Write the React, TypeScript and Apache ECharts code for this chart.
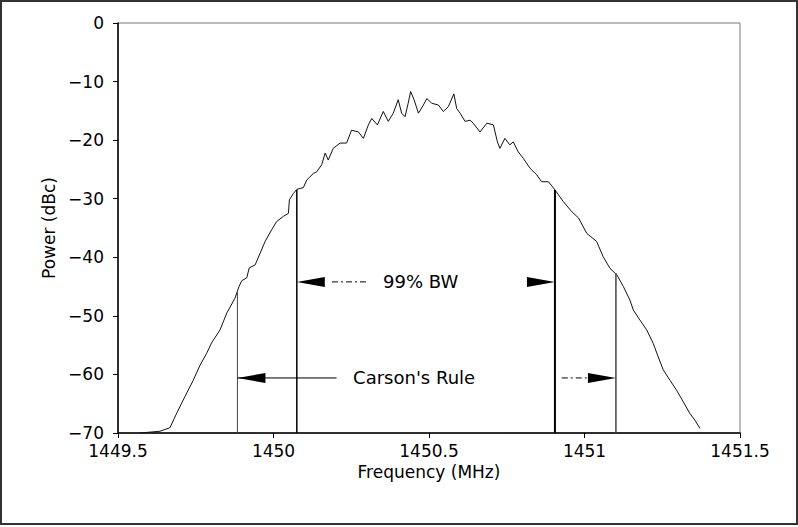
import React, { useEffect, useRef } from 'react';
import * as echarts from 'echarts';

// Spectrum trace (MHz, dBc)
const freq = [
  1449.571, 1449.635, 1449.667, 1449.689, 1449.715, 1449.742, 1449.764, 1449.785, 1449.801, 1449.828,
  1449.850, 1449.876, 1449.889, 1449.898, 1449.914, 1449.922, 1449.941, 1449.957, 1449.973, 1449.994,
  1450.010, 1450.032, 1450.048, 1450.051, 1450.064, 1450.075, 1450.096, 1450.107, 1450.128, 1450.139,
  1450.155, 1450.166, 1450.176, 1450.192, 1450.214, 1450.235, 1450.251, 1450.273, 1450.289, 1450.305,
  1450.316, 1450.334, 1450.353, 1450.369, 1450.385, 1450.401, 1450.412, 1450.423, 1450.433, 1450.441,
  1450.452, 1450.466, 1450.482, 1450.493, 1450.509, 1450.530, 1450.546, 1450.562, 1450.580, 1450.589,
  1450.600, 1450.616, 1450.632, 1450.642, 1450.664, 1450.686, 1450.707, 1450.720, 1450.728, 1450.744,
  1450.760, 1450.771, 1450.787, 1450.803, 1450.825, 1450.846, 1450.862, 1450.884, 1450.905, 1450.932,
  1450.959, 1450.981, 1451.007, 1451.039, 1451.060, 1451.082, 1451.104, 1451.125, 1451.146, 1451.157,
  1451.178, 1451.200, 1451.221, 1451.237, 1451.253, 1451.275, 1451.296, 1451.318, 1451.338, 1451.355,
  1451.371,
];
const power = [
  -70.0, -69.7, -69.1, -66.6, -63.8, -61.0, -58.4, -56.4, -54.6, -52.4,
  -49.5, -47.0, -45.0, -44.0, -43.5, -41.8, -41.3, -39.3, -37.3, -35.3,
  -33.9, -33.0, -32.5, -30.2, -29.1, -28.4, -28.1, -26.8, -25.7, -25.4,
  -24.2, -22.2, -23.4, -21.4, -20.5, -20.5, -18.3, -18.6, -19.7, -17.4,
  -16.3, -17.4, -15.1, -16.8, -15.4, -13.1, -15.4, -16.0, -13.7, -11.7,
  -13.1, -15.4, -14.0, -12.9, -13.7, -14.0, -15.1, -14.3, -12.1, -14.6,
  -15.4, -16.8, -16.6, -17.1, -18.6, -17.1, -17.4, -20.3, -21.4, -19.7,
  -20.8, -20.3, -22.0, -23.1, -24.8, -25.9, -27.1, -27.1, -28.5, -30.5,
  -32.2, -33.3, -35.9, -37.3, -39.9, -41.9, -43.0, -45.0, -47.3, -49.0,
  -50.7, -52.4, -54.7, -57.0, -59.2, -61.0, -62.7, -64.7, -66.6, -67.8,
  -69.2,
];

// Annotation values
const bwEdges = [1450.075, 1450.905];
const bwTops = [-28.5, -28.5];
const carsonEdges = [1449.884, 1451.101];
const carsonTops = [-46.0, -42.7];
const bwArrowLevel = -44.2;
const carsonArrowLevel = -60.6;
const bwLeader = [1450.188, 1450.305];
const carsonLeaderLeft = [1449.884, 1450.203];
const carsonLeaderRight = [1450.927, 1451.007];
const bwLabel = '99% BW';
const carsonLabel = "Carson's Rule";
const bwLabelAt = 1450.352;
const carsonLabelAt = 1450.256;

const xTicks = { min: 1449.5, max: 1451.5, step: 0.5 };
const yTicks = { min: -70, max: 0, step: 10 };

const FONT = 'DejaVu Sans';

export default function App() {
  const ref = useRef<HTMLDivElement>(null);
  useEffect(() => {
    document.body.style.margin = '0';
    const chart = echarts.init(ref.current!, null, { renderer: 'svg' });

    const renderItem = (_params: any, api: any) => {
      const P = (f: number, v: number) => api.coord([f, v]);
      const children: any[] = [];
      const seg = (a: number[], b: number[], stroke: string, w: number, dash?: number[]) => {
        children.push({
          type: 'line',
          shape: { x1: a[0], y1: a[1], x2: b[0], y2: b[1] },
          style: { stroke, lineWidth: w, lineDash: dash },
        });
      };
      const head = (tip: number[], dir: number) => {
        children.push({
          type: 'polygon',
          shape: { points: [[tip[0], tip[1]], [tip[0] + dir * 28, tip[1] - 5], [tip[0] + dir * 28, tip[1] + 5]] },
          style: { fill: '#000' },
        });
      };
      const label = (text: string, f: number, v: number) => {
        const p = P(f, v);
        children.push({
          type: 'text',
          x: p[0],
          y: p[1],
          style: { text, fill: '#000', fontSize: 18, fontFamily: FONT, align: 'left', verticalAlign: 'middle' },
        });
      };
      // vertical boundary lines
      seg(P(carsonEdges[0], yTicks.min), P(carsonEdges[0], carsonTops[0]), '#444', 1);
      seg(P(carsonEdges[1], yTicks.min), P(carsonEdges[1], carsonTops[1]), '#444', 1.5);
      seg(P(bwEdges[0], yTicks.min), P(bwEdges[0], bwTops[0]), '#000', 1.5);
      seg(P(bwEdges[1], yTicks.min), P(bwEdges[1], bwTops[1]), '#000', 2);
      // 99% BW arrows
      head(P(bwEdges[0], bwArrowLevel), 1);
      seg(P(bwLeader[0], bwArrowLevel), P(bwLeader[1], bwArrowLevel), '#000', 1, [6, 3, 2, 3]);
      head(P(bwEdges[1], bwArrowLevel), -1);
      label(bwLabel, bwLabelAt, bwArrowLevel);
      // Carson's rule arrows
      head(P(carsonEdges[0], carsonArrowLevel), 1);
      seg(P(carsonLeaderLeft[0], carsonArrowLevel), P(carsonLeaderLeft[1], carsonArrowLevel), '#000', 1);
      seg(P(carsonLeaderRight[0], carsonArrowLevel), P(carsonLeaderRight[1], carsonArrowLevel), '#000', 1, [6, 3, 2, 3]);
      head(P(carsonEdges[1], carsonArrowLevel), -1);
      label(carsonLabel, carsonLabelAt, carsonArrowLevel);
      return { type: 'group', children };
    };

    const axisText = { fontFamily: FONT, fontSize: 17, color: '#000' };
    const minus = (v: number) => String(v).replace('-', '\u2212');

    chart.setOption({
      animation: false,
      backgroundColor: '#fff',
      grid: { left: 118, right: 58, top: 23, bottom: 94, show: true, borderColor: '#777', borderWidth: 1 },
      xAxis: {
        type: 'value',
        min: xTicks.min,
        max: xTicks.max,
        interval: xTicks.step,
        name: 'Frequency (MHz)',
        nameLocation: 'middle',
        nameGap: 29,
        nameTextStyle: axisText,
        axisLine: { onZero: false, lineStyle: { color: '#000', width: 1.5 } },
        axisTick: { show: true, length: 5, lineStyle: { color: '#000' } },
        axisLabel: { ...axisText, margin: 9, formatter: (v: number) => String(v) },
        splitLine: { show: false },
      },
      yAxis: {
        type: 'value',
        min: yTicks.min,
        max: yTicks.max,
        interval: yTicks.step,
        name: 'Power (dBc)',
        nameLocation: 'middle',
        nameGap: 58,
        nameTextStyle: axisText,
        axisLine: { onZero: false, lineStyle: { color: '#000', width: 1.5 } },
        axisTick: { show: true, length: 5, lineStyle: { color: '#000' } },
        axisLabel: { ...axisText, margin: 14, formatter: minus },
        splitLine: { show: false },
      },
      graphic: [
        {
          type: 'rect',
          silent: true,
          shape: { x: 1, y: 1, width: 796, height: 523 },
          style: { fill: 'none', stroke: '#333', lineWidth: 2 },
        },
      ],
      series: [
        {
          type: 'line',
          data: freq.map((f, i) => [f, power[i]]),
          symbol: 'none',
          lineStyle: { color: '#111', width: 1 },
          z: 3,
        },
        {
          type: 'custom',
          coordinateSystem: 'cartesian2d',
          data: [[1450.5, -35]],
          renderItem,
          clip: false,
          silent: true,
          z: 4,
        },
      ],
    });
    return () => chart.dispose();
  }, []);
  return (
    <div
      ref={ref}
      style={{ position: 'absolute', left: 0, top: 0, width: 798, height: 527, background: '#fff' }}
    />
  );
}
